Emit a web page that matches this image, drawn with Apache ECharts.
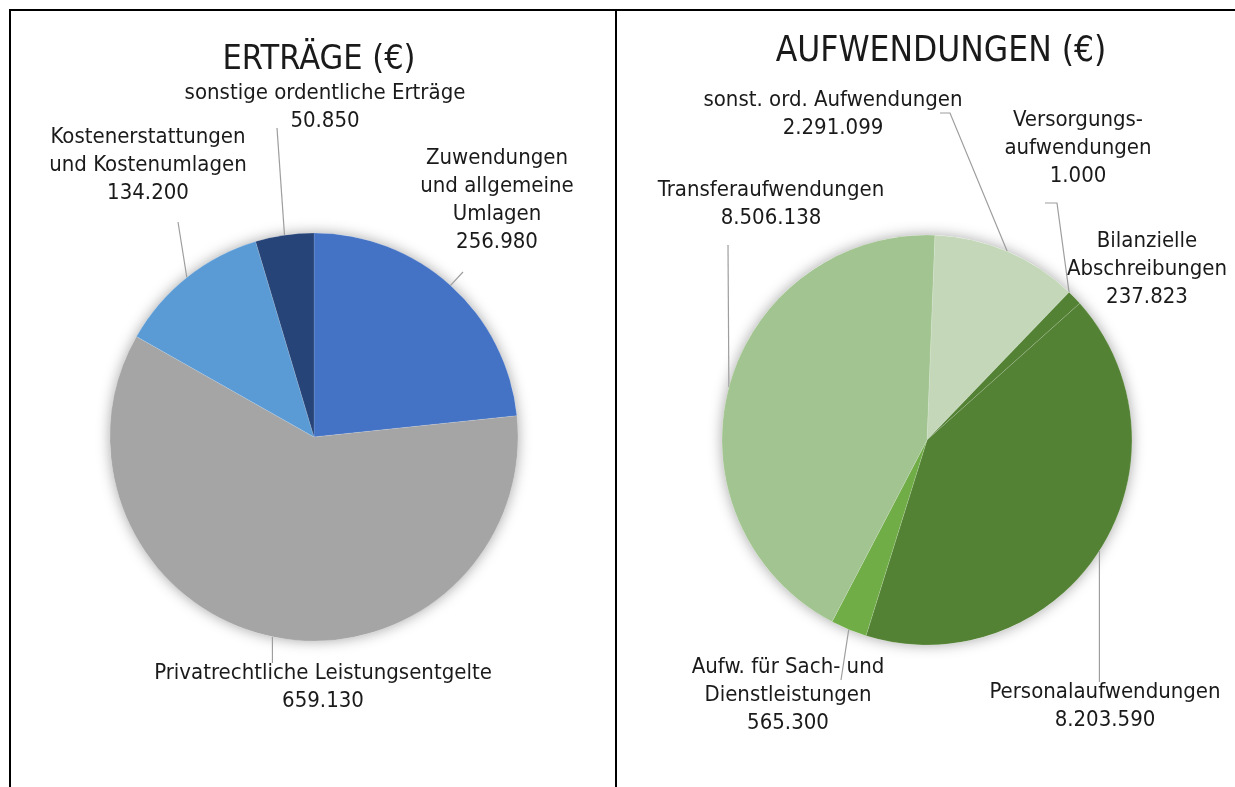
<!DOCTYPE html>
<html><head><meta charset="utf-8">
<script src="https://cdn.jsdelivr.net/npm/echarts@6/dist/echarts.min.js"></script>
<style>html,body{margin:0;padding:0;background:#fff}#c{width:1235px;height:787px}</style>
</head><body><div id="c"></div>
<script>
// ---- data ----
const ertraegeTitle = 'ERTRÄGE (€)';
const ertraegeNames = ['Zuwendungen\nund allgemeine\nUmlagen', 'Privatrechtliche Leistungsentgelte', 'Kostenerstattungen\nund Kostenumlagen', 'sonstige ordentliche Erträge'];
const ertraegeValues = [256980, 659130, 134200, 50850];

const aufwTitle = 'AUFWENDUNGEN (€)';
const aufwNames = ['sonst. ord. Aufwendungen', 'Versorgungs-\naufwendungen', 'Bilanzielle\nAbschreibungen', 'Personalaufwendungen', 'Aufw. für Sach- und\nDienstleistungen', 'Transferaufwendungen'];
const aufwValues = [2291099, 1000, 237823, 8203590, 565300, 8506138];

// ---- styles / layout ----
const ertraegeColors = ['#4472C4', '#A5A5A5', '#5B9BD5', '#264478'];
const aufwColors = ['#C4D8B9', '#3A6324', '#548235', '#548235', '#70AD47', '#A2C491'];
const FONT = '"Liberation Sans Narrow", "DejaVu Sans Condensed", "Liberation Sans", sans-serif';

const ertraegeLabelPos = [
  {x: 497, y: 200, line: [[463, 272]]},
  {x: 323, y: 687, line: 'down'},
  {x: 148, y: 165, line: [[178, 222]]},
  {x: 325, y: 107, line: [[277, 128]]}
];
const aufwLabelPos = [
  {x: 833, y: 114, line: [[950, 113], [940, 113]]},
  {x: 1078, y: 148, line: [[1057, 203], [1045, 203]]},
  {x: 1147, y: 269, line: null},
  {x: 1105, y: 706, line: 'down'},
  {x: 788, y: 695, line: [[841, 680]]},
  {x: 771, y: 204, line: [[728, 245]]}
];

function fmt(v) { return String(v).replace(/\B(?=(\d{3})+(?!\d))/g, '.'); }

function makeLayout(spec) {
  return function (params) {
    const s = spec[params.dataIndex];
    const res = {x: s.x, y: s.y, align: 'center', verticalAlign: 'middle'};
    if (params.labelLinePoints && s.line) {
      const p0 = params.labelLinePoints[0];
      if (s.line === 'down') {
        res.labelLinePoints = [p0, [p0[0], s.y - 24]];
      } else {
        res.labelLinePoints = [p0].concat(s.line);
      }
    }
    return res;
  };
}

function buildData(names, values, colors, spec) {
  return names.map((n, i) => ({
    name: n, value: values[i],
    itemStyle: {color: colors[i]},
    labelLine: {show: !!spec[i].line}
  }));
}

function shadowSeries(values, center, radius) {
  return {
    type: 'pie', center: center, radius: radius, silent: true, z: 1,
    startAngle: 90, label: {show: false}, labelLine: {show: false},
    itemStyle: {color: '#ffffff', shadowBlur: 14, shadowColor: 'rgba(0,0,0,0.35)'},
    data: [{value: values.reduce((a, b) => a + b, 0)}]
  };
}

function mainSeries(names, values, colors, spec, center, radius, startAngle) {
  return {
    type: 'pie', center: center, radius: radius, z: 2,
    startAngle: startAngle, clockwise: true, avoidLabelOverlap: false,
    animation: false,
    itemStyle: {borderColor: 'rgba(255,255,255,0.25)', borderWidth: 0.5},
    label: {
      show: true, position: 'outside',
      fontFamily: FONT, fontSize: 22, lineHeight: 28, color: '#1a1a1a',
      formatter: p => p.name + '\n' + fmt(p.value)
    },
    labelLine: {show: true, length: 10, length2: 10, lineStyle: {color: '#9e9e9e', width: 1.2}},
    labelLayout: makeLayout(spec),
    emphasis: {disabled: true},
    data: buildData(names, values, colors, spec)
  };
}

const chart = echarts.init(document.getElementById('c'), null, {renderer: 'canvas'});
chart.setOption({
  backgroundColor: '#ffffff',
  animation: false,
  title: [
    {text: ertraegeTitle, left: 314, top: 55, textAlign: 'center', textVerticalAlign: 'middle',
     textStyle: {fontFamily: FONT, fontSize: 34, fontWeight: 'normal', color: '#1a1a1a'}},
    {text: aufwTitle, left: 936, top: 47, textAlign: 'center', textVerticalAlign: 'middle',
     textStyle: {fontFamily: FONT, fontSize: 35, fontWeight: 'normal', color: '#1a1a1a'}}
  ],
  graphic: [
    {type: 'line', shape: {x1: 9, y1: 10, x2: 1235, y2: 10}, style: {stroke: '#000', lineWidth: 2}},
    {type: 'line', shape: {x1: 10, y1: 9, x2: 10, y2: 787}, style: {stroke: '#000', lineWidth: 2}},
    {type: 'line', shape: {x1: 616, y1: 9, x2: 616, y2: 787}, style: {stroke: '#000', lineWidth: 2}}
  ],
  series: [
    shadowSeries(ertraegeValues, [314, 437], 204),
    mainSeries(ertraegeNames, ertraegeValues, ertraegeColors, ertraegeLabelPos, [314, 437], 204, 90),
    shadowSeries(aufwValues, [927, 440], 205),
    mainSeries(aufwNames, aufwValues, aufwColors, aufwLabelPos, [927, 440], 205, 87.8)
  ]
});
</script>
</body></html>
